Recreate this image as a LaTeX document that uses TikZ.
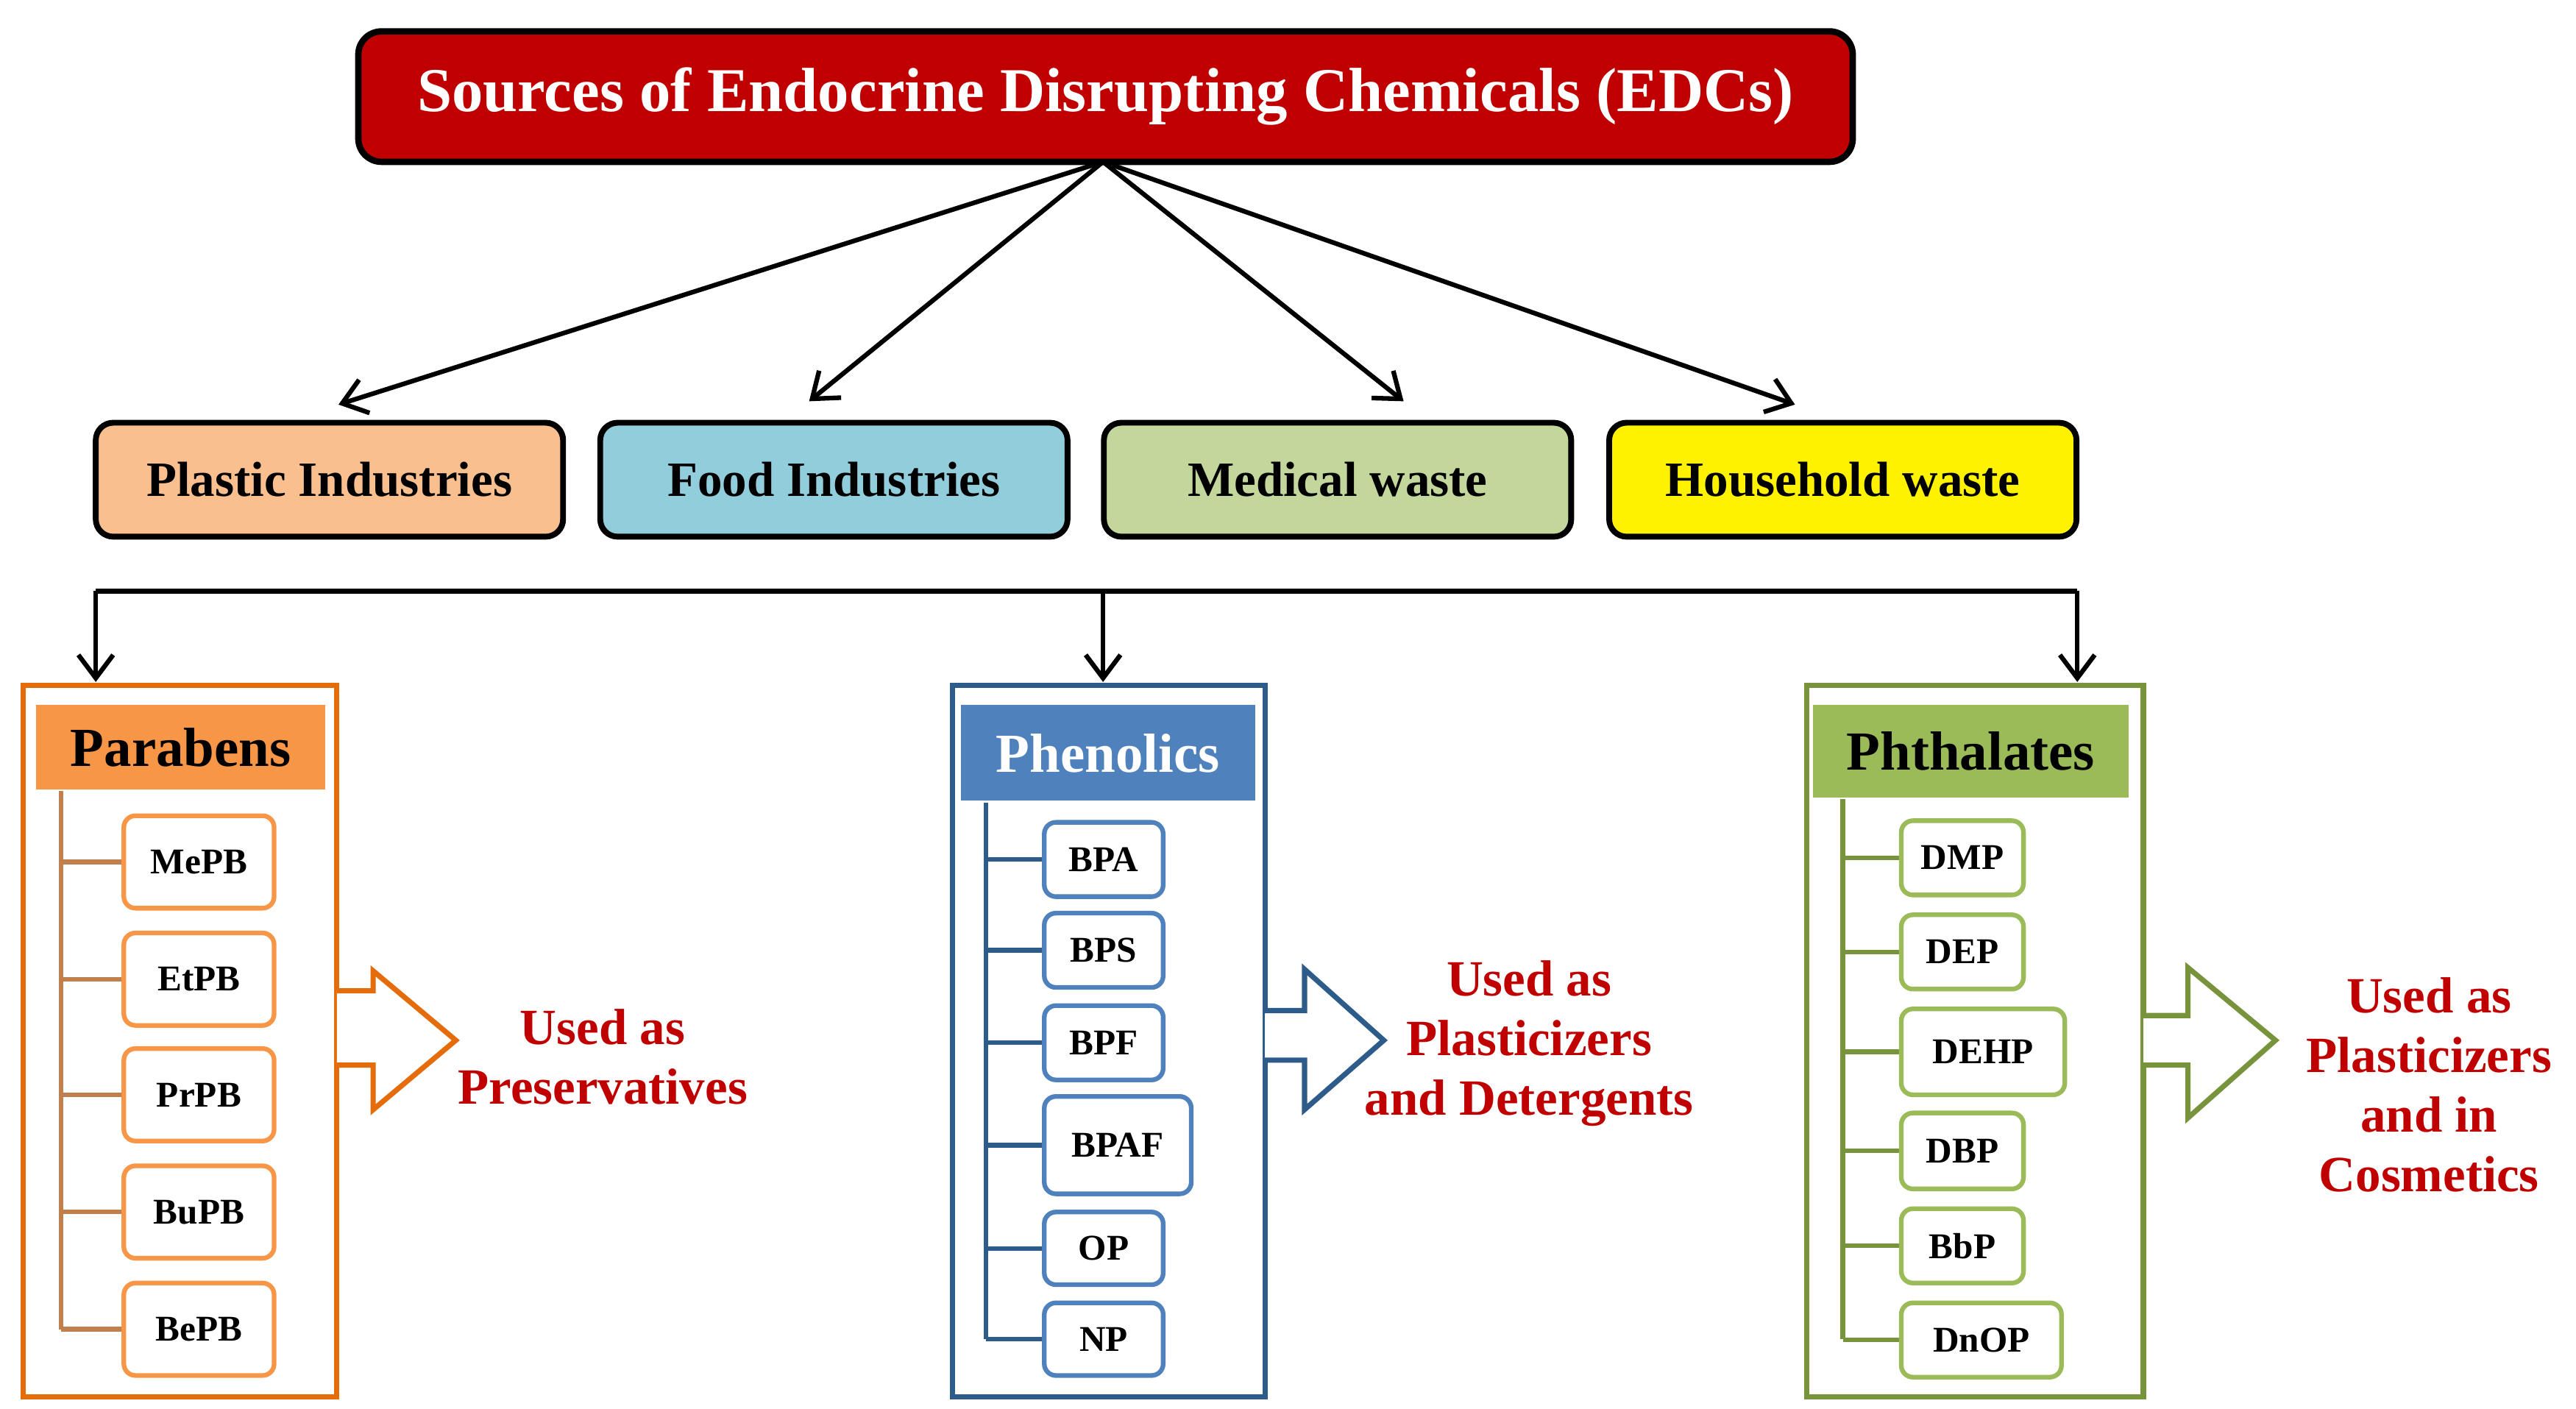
\documentclass[tikz,border=0pt]{standalone}
\usepackage{fontspec}
\setmainfont{Liberation Serif}
\usetikzlibrary{arrows.meta}
\definecolor{tred}{HTML}{C00000}
\definecolor{dred}{HTML}{C00000}
\definecolor{porg}{HTML}{F9BF8F}
\definecolor{pblu}{HTML}{92CDDC}
\definecolor{pgrn}{HTML}{C3D69B}
\definecolor{orgL}{HTML}{E46C0A}
\definecolor{orgF}{HTML}{F79646}
\definecolor{orgT}{HTML}{C0804D}
\definecolor{bluL}{HTML}{2E5C8A}
\definecolor{bluF}{HTML}{4F81BD}
\definecolor{grnL}{HTML}{77933C}
\definecolor{grnF}{HTML}{9BBB59}
\begin{document}
\begin{tikzpicture}[x=0.02cm,y=-0.02cm,
 cat/.style={draw=black,line width=2pt,rounded corners=6pt,minimum width=283*0.02cm,minimum height=69*0.02cm,font=\bfseries\fontsize{17}{19}\selectfont},
 arr/.style={-{Straight Barb[length=8pt,width=12pt]},line width=1.6pt},
 item/.style={draw=#1,line width=1.6pt,fill=white,rounded corners=4pt,minimum height=45*0.02cm,font=\bfseries\fontsize{12.5}{14}\selectfont,inner sep=0pt},
 used/.style={text=dred,font=\bfseries\fontsize{17.5}{20.5}\selectfont,align=center}]
\useasboundingbox (0,0) rectangle (1560,853);
\node[draw=black,line width=2.2pt,fill=tred,rounded corners=8pt,minimum width=905*0.02cm,minimum height=79*0.02cm,text=white,font=\bfseries\fontsize{21.5}{24}\selectfont] (title) at (669.5,58.5) {Sources of Endocrine Disrupting Chemicals (EDCs)};
\coordinate (src) at (668,98);
\node[cat,fill=porg] (plastic) at (199.5,290.5) {Plastic Industries};
\node[cat,fill=pblu] (food) at (505,290.5) {Food Industries};
\node[cat,fill=pgrn] (med) at (810,290.5) {Medical waste};
\node[cat,fill=yellow] (house) at (1116,290.5) {Household waste};
\coordinate (t1) at (205,245);\coordinate (t2) at (490,243);\coordinate (t3) at (850,243);\coordinate (t4) at (1087,245);
\foreach \t in {t1,t2,t3,t4} \draw[arr] (src) -- (\t);
\coordinate (hl) at (58,358);\coordinate (hm) at (668,358);\coordinate (hr) at (1258,358);
\coordinate (d1) at (58,413);\coordinate (d2) at (668,413);\coordinate (d3) at (1258,413);
\draw[line width=1.6pt] (hl) -- (hr);
\draw[arr] (hl) -- (d1); \draw[arr] (hm) -- (d2); \draw[arr] (hr) -- (d3);
% Parabens
\draw[orgL,line width=1.8pt] (14,415) rectangle (204,846);
\node[fill=orgF,minimum width=175*0.02cm,minimum height=51*0.02cm,font=\bfseries\fontsize{19}{22}\selectfont] (par) at (109.5,452.5) {Parabens};
\draw[orgT,line width=1.6pt] (37,479) -- (37,805);
\foreach \n/\y in {MePB/522,EtPB/593,PrPB/663,BuPB/734,BePB/805}{
 \draw[orgT,line width=1.6pt] (37,\y) -- (75,\y);
 \node[item=orgF,minimum width=91*0.02cm,minimum height=56*0.02cm] (\n) at (120.5,\y) {\n};}
\draw[orgL,line width=1.8pt,fill=white] (204,600) -- (226,600) -- (226,588) -- (276,630) -- (226,672) -- (226,645) -- (204,645);
\node[used] (u1) at (365,640) {Used as\\Preservatives};
% Phenolics
\draw[bluL,line width=1.8pt] (577,415) rectangle (766,846);
\node[fill=bluF,minimum width=178*0.02cm,minimum height=58*0.02cm,text=white,font=\bfseries\fontsize{19}{22}\selectfont] (phe) at (671,456) {Phenolics};
\draw[bluL,line width=1.6pt] (597,486) -- (597,811);
\foreach \n/\y/\h/\w in {BPA/520.5/45/72,BPS/575.5/45/72,BPF/631.5/45/72,BPAF/693.5/59/89,OP/756/44/72,NP/811/44/72}{
 \draw[bluL,line width=1.6pt] (597,\y) -- (631,\y);
 \node[item=bluF,minimum width=\w*0.02cm,minimum height=\h*0.02cm,anchor=west] (\n) at (631,\y) {\n};}
\draw[bluL,line width=1.8pt,fill=white] (766,612) -- (790,612) -- (790,587) -- (838,630) -- (790,672) -- (790,642) -- (766,642);
\node[used] (u2) at (926,632) {Used as\\Plasticizers\\and Detergents};
% Phthalates
\draw[grnL,line width=1.8pt] (1094,415) rectangle (1298,846);
\node[fill=grnF,minimum width=191*0.02cm,minimum height=56*0.02cm,font=\bfseries\fontsize{19}{22}\selectfont] (pht) at (1193.5,455) {Phthalates};
\draw[grnL,line width=1.6pt] (1116,484) -- (1116,811);
\foreach \n/\y/\h/\w in {DMP/519.5/45/74,DEP/576.5/45/74,DEHP/637/52/99,DBP/697/46/74,BbP/754.5/45/74,DnOP/811.5/45/97}{
 \draw[grnL,line width=1.6pt] (1116,\y) -- (1150,\y);
 \node[item=grnF,minimum width=\w*0.02cm,minimum height=\h*0.02cm,anchor=west] (\n) at (1150,\y) {\n};}
\draw[grnL,line width=1.8pt,fill=white] (1298,615) -- (1325,615) -- (1325,586) -- (1378,630) -- (1325,677) -- (1325,645) -- (1298,645);
\node[used] (u3) at (1471,657) {Used as\\Plasticizers\\and in\\Cosmetics};
\end{tikzpicture}
\end{document}
